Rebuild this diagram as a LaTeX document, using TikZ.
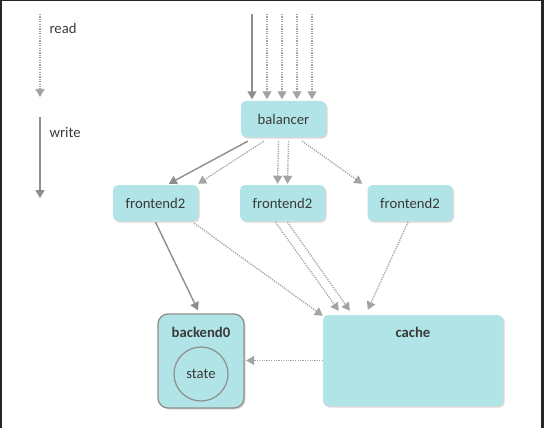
\documentclass[tikz,border=0pt]{standalone}
\usepackage{fontspec}
\setmainfont{Carlito}
\usepackage{tikz}
\usetikzlibrary{arrows.meta, shadows, calc}
\definecolor{boxfill}{HTML}{B1E4E6}
\definecolor{linegray}{HTML}{8E8E8E}
\definecolor{dotgray}{HTML}{A4A4A4}
\definecolor{textgray}{HTML}{3A3A3A}

\begin{document}
\begin{tikzpicture}[x=1pt, y=-1pt,
    every node/.style={font=\fontsize{14.7}{17}\selectfont, text=textgray},
    server/.style={fill=boxfill, rounded corners=5pt, minimum width=85pt, minimum height=36pt,
        drop shadow={shadow xshift=1.5pt, shadow yshift=-1.5pt, opacity=0.3}},
    writearrow/.style={draw=linegray, line width=1.4pt, -{Triangle[width=9pt, length=8pt]}},
    readarrow/.style={draw=dotgray, line width=1.4pt, dash pattern=on 1.2pt off 1.2pt,
        -{Triangle[width=9pt, length=8pt]}}]

    \useasboundingbox (0,0) rectangle (544,428);

    % Frame
    \fill[black!85] (0,0) rectangle (544,1.5);
    \fill[black!85] (0,0) rectangle (1.5,428);
    \fill[black!85] (541,0) rectangle (544,428);

    % Legend
    \coordinate (rtop) at (40,14);
    \coordinate (rend) at (40,97);
    \coordinate (wtop) at (40,117);
    \coordinate (wend) at (40,198);
    \draw[readarrow] (rtop) -- (rend);
    \draw[writearrow] (wtop) -- (wend);
    \node[anchor=west] (readlbl) at (46,28) {read};
    \node[anchor=west] (writelbl) at (46,132) {write};

    % Boxes
    \node[server] (bal) at (283.5,119) {balancer};
    \node[server] (fe1) at (155.5,203) {frontend2};
    \node[server] (fe2) at (282.5,203) {frontend2};
    \node[server] (fe3) at (410,203) {frontend2};
    \node[server, rounded corners=10pt, draw=linegray, line width=1.3pt,
        minimum width=86pt, minimum height=94pt] (be) at (201,361) {};
    \node[font=\fontsize{14.7}{17}\selectfont\bfseries] (belbl) at (201,332) {backend0};
    \node[circle, draw=linegray, line width=1.2pt, minimum size=54pt] (state) at (201,374) {state};
    \node[server, minimum width=180pt, minimum height=91pt] (cache) at (413,360.5) {};
    \node[font=\fontsize{14.7}{17}\selectfont\bfseries] (cachelbl) at (413,332) {cache};

    % Requests into balancer
    \coordinate (in1) at (252,14);
    \draw[writearrow, shorten >=1.5pt] (in1) -- (in1 |- bal.north);
    \foreach \x [count=\i] in {267,282,297,312} {
        \coordinate (inr\i) at (\x,14);
        \draw[readarrow, shorten >=1.5pt] (inr\i) -- (inr\i |- bal.north);
    }

    % Balancer to frontends
    \draw[writearrow] ($(bal.south west)+(7,4)$) -- ($(fe1.north west)+(56,-1)$);
    \draw[readarrow] ($(bal.south west)+(23,4)$) -- ($(fe1.north east)+(0,-1)$);
    \draw[readarrow] ($(bal.south)+(-5,4)$) -- ($(fe2.north)+(-5,-1)$);
    \draw[readarrow] ($(bal.south)+(5,4)$) -- ($(fe2.north)+(5,-1)$);
    \draw[readarrow] ($(bal.south east)+(-24,4)$) -- ($(fe3.north west)+(-5,-1)$);

    % Frontends to backend and cache
    \draw[writearrow] ($(fe1.south)+(0,1)$) -- ($(be.north)+(-3,-3)$);
    \draw[readarrow] ($(fe1.south east)+(-4,2)$) -- ($(cache.north west)+(0,1)$);
    \draw[readarrow] ($(fe2.south)+(-7,1)$) -- ($(cache.north west)+(16,-4)$);
    \draw[readarrow] ($(fe2.south)+(5,1)$) -- ($(cache.north west)+(27,-4)$);
    \draw[readarrow] ($(fe3.south)+(-2,1)$) -- ($(cache.north west)+(45,-5)$);

    % Cache to backend
    \draw[readarrow, shorten >=1.5pt] (cache.west) -- (cache.west -| be.east);

\end{tikzpicture}
\end{document}
